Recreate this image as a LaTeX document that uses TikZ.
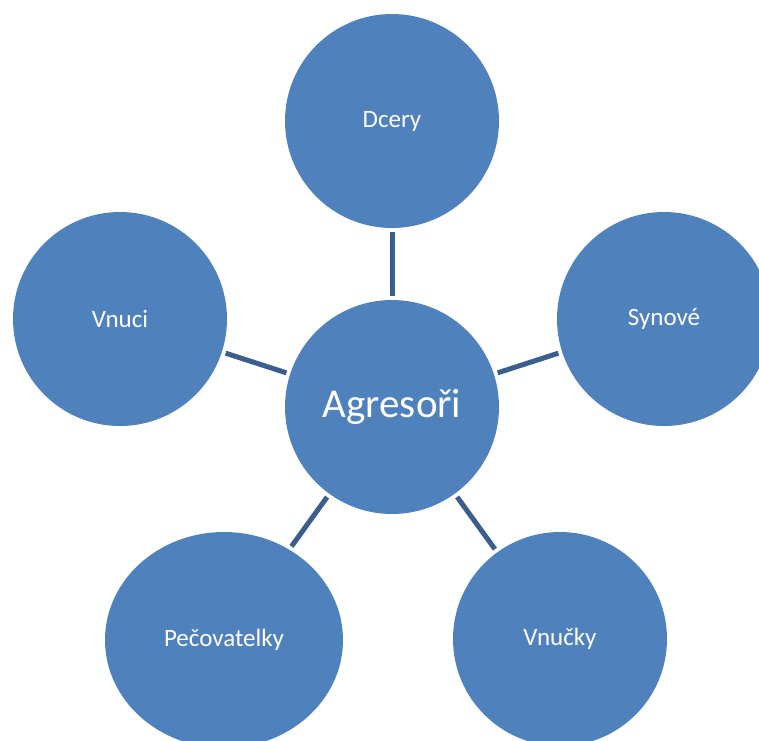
\documentclass[tikz,border=0pt]{standalone}
\usepackage{fontspec}
\setmainfont{Carlito}
\usetikzlibrary{shapes.geometric}
\definecolor{bubble}{HTML}{4F81BD}
\definecolor{linkc}{HTML}{3A5F8F}
\begin{document}
\begin{tikzpicture}[x=1pt,y=-1pt,
  bub/.style={circle,fill=bubble,draw=none,inner sep=0pt,outer sep=0pt,minimum size=214pt,text=white,font=\fontsize{25}{30}\selectfont},
  conn/.style={draw=linkc,line width=5pt,shorten <=4pt,shorten >=4pt}]
\useasboundingbox (0,0) rectangle (759,740);
\node[bub,font=\fontsize{41}{48}\selectfont] (c) at (392,407) {Agreso\v{r}i};
\node[bub] (dcery) at (392,121) {Dcery};
\node[bub] (synove) at (664,319) {Synov\'e};
\node[bub] (vnuci) at (120,319) {Vnuci};
\node[bub,ellipse,minimum width=238pt,minimum height=216pt] (pec) at (224,640) {Pe\v{c}ovatelky};
\node[bub] (vnucky) at (560,639) {Vnu\v{c}ky};
\draw[conn] (c) -- (dcery);
\draw[conn] (c) -- (synove);
\draw[conn] (c) -- (vnuci);
\draw[conn] (c) -- (pec);
\draw[conn] (c) -- (vnucky);
\end{tikzpicture}
\end{document}
